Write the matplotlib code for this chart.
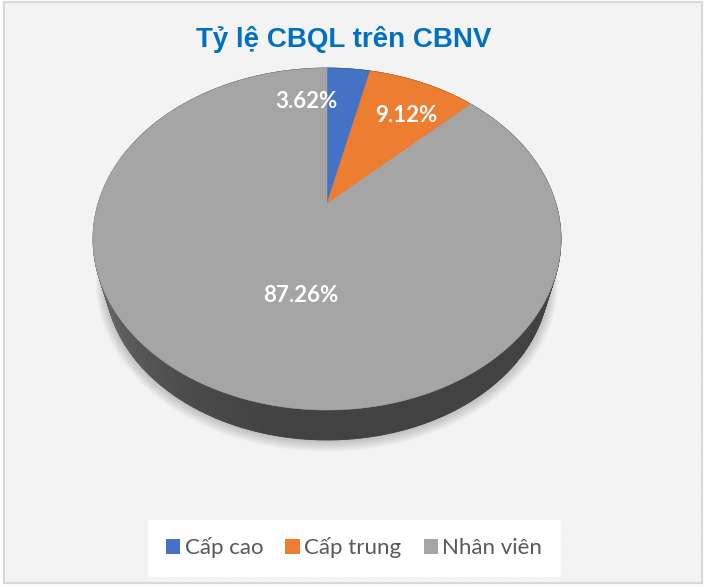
import numpy as np
import matplotlib
matplotlib.use('Agg')
import matplotlib.pyplot as plt
from matplotlib.patches import Polygon, Rectangle, Patch
from matplotlib.collections import PolyCollection
from matplotlib.colors import to_rgb

# ---- data ----
categories = ['Cấp cao', 'Cấp trung', 'Nhân viên']
values = [3.62, 9.12, 87.26]
value_labels = ['3.62%', '9.12%', '87.26%']
colors = ['#4472C4', '#ED7D31', '#A5A5A5']
title = 'Tỷ lệ CBQL trên CBNV'

# ---- layout (pixels) ----
W, H = 707, 587
fig = plt.figure(figsize=(W / 100, H / 100), dpi=100)
ax = fig.add_axes([0, 0, 1, 1])
ax.set_xlim(0, W)
ax.set_ylim(H, 0)
ax.axis('off')

# background with faint diagonal stripes + border
ax.add_patch(Rectangle((4, 2), 698, 581, facecolor='white', edgecolor='#f1f1f1',
                       linewidth=0, hatch='\\' * 14, zorder=0))
ax.add_patch(Rectangle((4, 2), 698, 581, fill=False, edgecolor='#d9d9d9',
                       linewidth=1.6, zorder=10))

# perspective projection of the pie plane
cx, cy = 327, 204
A, B, k = 229.0, 163.8, 0.2048
s_bot = 0.948          # scale of the bottom rim toward the vanishing point
VPX = 327.0
VPY = (440 - 410 * s_bot) / (1 - s_bot)


def proj(phi_deg):
    p = np.radians(phi_deg)
    u, v = np.cos(p), np.sin(p)
    w = 1 + k * v
    return np.column_stack([cx + A * u / w, cy - B * v / w])


def to_bottom(pts):
    return np.column_stack([VPX + s_bot * (pts[:, 0] - VPX), VPY + s_bot * (pts[:, 1] - VPY)])


vals = np.asarray(values, dtype=float)
frac = vals / vals.sum()
cum = np.concatenate([[0], np.cumsum(frac)])
theta1 = 90 - 360 * cum[:-1]
theta2 = 90 - 360 * cum[1:]

# soft shadow under the pie
ring = np.linspace(0, 360, 361)
bot_ring = to_bottom(proj(ring))
ctr = bot_ring.mean(axis=0)
for i in range(1, 10):
    g = 1 + 0.0045 * i
    pts = np.column_stack([ctr[0] + g * (bot_ring[:, 0] - ctr[0]),
                           ctr[1] + g * (bot_ring[:, 1] - ctr[1]) + i * 0.5])
    ax.add_patch(Polygon(pts, closed=True, facecolor='#000000', alpha=0.022,
                         edgecolor='none', zorder=1))

# side of the pie (shaded quads)
quads, qcols, qdepth = [], [], []
for t1, t2, c in zip(theta1, theta2, colors):
    n = max(4, int(abs(t2 - t1) * 2))
    phis = np.linspace(t1, t2, n)
    top = proj(phis)
    bot = to_bottom(top)
    base = np.array(to_rgb(c))
    for i in range(n - 1):
        quads.append([top[i], top[i + 1], bot[i + 1], bot[i]])
        pm = np.radians((phis[i] + phis[i + 1]) / 2)
        f = 0.40 + 0.30 * max(0.0, -np.cos(pm)) ** 2.5
        qcols.append(np.clip(base * f, 0, 1))
        qdepth.append(np.sin(pm))
order = np.argsort(qdepth)[::-1]
pc = PolyCollection([quads[i] for i in order], facecolors=[qcols[i] for i in order],
                    edgecolors=[qcols[i] for i in order], linewidths=0.6, zorder=2)
ax.add_collection(pc)

# top face wedges
for t1, t2, c in zip(theta1, theta2, colors):
    n = max(4, int(abs(t2 - t1) * 2))
    arc = proj(np.linspace(t1, t2, n))
    pts = np.vstack([[cx, cy], arc])
    ax.add_patch(Polygon(pts, closed=True, facecolor=c, edgecolor=c,
                         linewidth=0.4, zorder=3))

# data labels
label_pos = [(306, 102), (406, 116), (301, 295)]
for (lx, ly), t in zip(label_pos, value_labels):
    ax.text(lx, ly, t, ha='center', va='center', color='white', fontsize=16,
            fontweight='bold', family=['Lato', 'DejaVu Sans'], zorder=5)

# title
ax.text(344, 47, title, ha='center', va='baseline', color='#0070C0', fontsize=20,
        fontweight='bold', family=['Liberation Sans', 'DejaVu Sans'], zorder=5)

# legend
handles = [Patch(facecolor=c, edgecolor='none', label=l) for c, l in zip(colors, categories)]
leg = ax.legend(handles=handles, loc='center', bbox_to_anchor=(354 / W, 1 - 548 / H),
                ncol=3, frameon=True, handlelength=0.65, handleheight=0.65,
                handletextpad=0.2, columnspacing=1.0, borderpad=0.85, borderaxespad=0,
                prop={'family': ['Lato', 'DejaVu Sans'], 'size': 16})
leg.get_frame().set_facecolor('white')
leg.get_frame().set_edgecolor('#f4f4f4')
leg.get_frame().set_boxstyle('square', pad=0)
leg.get_frame().set_alpha(1)
for t in leg.get_texts():
    t.set_color('#595959')
leg.set_zorder(6)

fig.savefig('out.png', dpi=100)
